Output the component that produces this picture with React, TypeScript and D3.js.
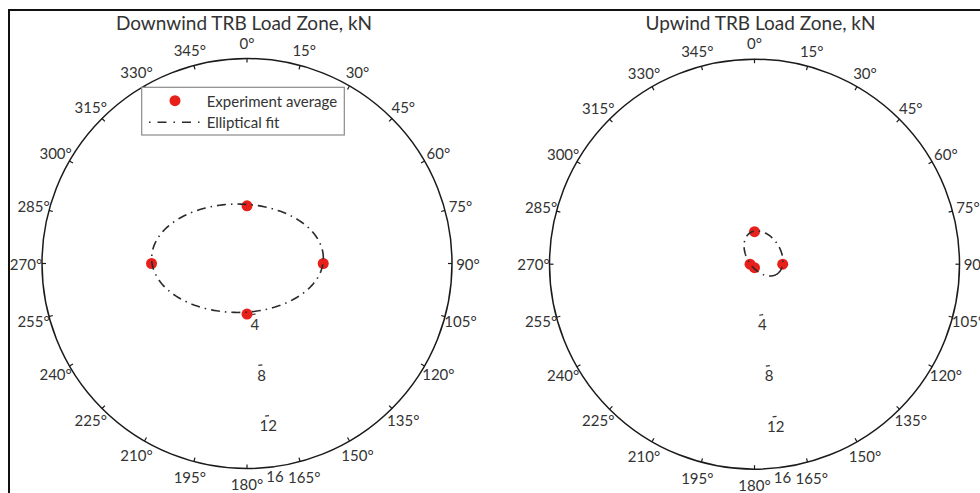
import React from 'react';
import * as d3 from 'd3';

// Compass directions (deg, clockwise from north) of the outer angle labels
const angleTicks = [0, 15, 30, 45, 60, 75, 90, 105, 120, 135, 150, 165, 180, 195, 210, 225, 240, 255, 270, 285, 300, 315, 330, 345];
// Radial (load) ticks, kN
const ringTicks = [4, 8, 12, 16];
const radialMax = 16;

// Measured load directions and the averaged load magnitude (kN) at each
const loadDirections = [0, 90, 180, 270];
const downwindLoad = [4.5, 5.95, 3.95, 7.45];
const upwindLoad = [2.54, 2.2, 0.27, 0.35];

// Elliptical fits: centre (east, north) in kN, semi-axes in kN, tilt in deg (ccw from east)
const downwindFit = { x0: -0.74, y0: 0.41, a: 6.7, b: 4.23, tilt: 0 };
const upwindFit = { x0: 0.7, y0: 0.84, a: 1.92, b: 1.31, tilt: -57 };

const titles = ['Downwind TRB Load Zone, kN', 'Upwind TRB Load Zone, kN'];
const legendLabels = ['Experiment average', 'Elliptical fit'];

const W = 980;
const H = 493;
const R = 205;
const FONT = 'Lato, "Open Sans", sans-serif';
const TEXT = '#333';
const RED = '#e8201c';
const DASHDOT = '9 5 1.5 5';
const RING_LABEL_ANGLE = 172.5;

type Fit = { x0: number; y0: number; a: number; b: number; tilt: number };

function PolarPanel(props: {
  cx: number;
  cy: number;
  title: string;
  titleX: number;
  load: number[];
  fit: Fit;
  legend?: boolean;
}) {
  const { cx, cy, title, titleX, load, fit, legend } = props;
  const r = d3.scaleLinear().domain([0, radialMax]).range([0, R]);
  const rad = (deg: number) => (deg * Math.PI) / 180;
  const polar = (deg: number, px: number): [number, number] => [
    cx + px * Math.sin(rad(deg)),
    cy - px * Math.cos(rad(deg)),
  ];

  // fitted ellipse traced in east/north coordinates
  const phi = rad(fit.tilt);
  const ellipsePts: [number, number][] = d3.range(0, 360, 2).map((t) => {
    const tr = rad(t);
    const e = fit.x0 + fit.a * Math.cos(tr) * Math.cos(phi) - fit.b * Math.sin(tr) * Math.sin(phi);
    const n = fit.y0 + fit.a * Math.cos(tr) * Math.sin(phi) + fit.b * Math.sin(tr) * Math.cos(phi);
    return [cx + r(e), cy - r(n)];
  });
  const ellipsePath = d3.line().curve(d3.curveLinearClosed)(ellipsePts) || '';

  // tiny pieces of each ring, visible next to the ring labels
  const ringArc = (v: number) => {
    const px = r(v);
    const half = (2 / px) * (180 / Math.PI);
    const line = d3
      .lineRadial<number>()
      .angle((d) => rad(d))
      .radius(px);
    return line([RING_LABEL_ANGLE - half, RING_LABEL_ANGLE + half]) || '';
  };

  return (
    <g>
      <text x={titleX} y={29.5} textAnchor="middle" fontSize={19} fill={TEXT} fontFamily={FONT}>
        {title}
      </text>
      <circle cx={cx} cy={cy} r={R} fill="none" stroke="#1a1a1a" strokeWidth={1.5} />
      {angleTicks.map((a) => {
        const [x1, y1] = polar(a, R);
        const [x2, y2] = polar(a, R - 4);
        return <line key={'t' + a} x1={x1} y1={y1} x2={x2} y2={y2} stroke="#1a1a1a" strokeWidth={1.2} />;
      })}
      {angleTicks.map((a) => {
        const [x, y] = polar(a, R * 1.078);
        return (
          <text
            key={'l' + a}
            x={x}
            y={y}
            textAnchor="middle"
            dominantBaseline="central"
            fontSize={15}
            fill={TEXT}
            fontFamily={FONT}
          >
            {a + '°'}
          </text>
        );
      })}
      {ringTicks.map((v) => (
        <path
          key={'ra' + v}
          d={ringArc(v)}
          transform={`translate(${cx},${cy})`}
          fill="none"
          stroke="#333"
          strokeWidth={1.2}
        />
      ))}
      {ringTicks.map((v) => {
        const [x, y] = polar(RING_LABEL_ANGLE, r(v) + 9.5);
        return (
          <text
            key={'rl' + v}
            x={x}
            y={y}
            textAnchor="middle"
            dominantBaseline="central"
            fontSize={15}
            fill={TEXT}
            fontFamily={FONT}
          >
            {v}
          </text>
        );
      })}
      {loadDirections.map((a, i) => {
        const [x, y] = polar(a, r(load[i]));
        return <circle key={'p' + a} cx={x} cy={y} r={5.5} fill={RED} />;
      })}
      <path d={ellipsePath} fill="none" stroke="#2a2a2a" strokeWidth={1.6} strokeDasharray={DASHDOT} />
      {legend && (
        <g>
          <rect x={141.7} y={87.3} width={202.6} height={47.7} fill="#fff" stroke="#8a8a8a" strokeWidth={1.2} />
          <circle cx={175} cy={100.7} r={5.5} fill={RED} />
          <line x1={149} y1={122.3} x2={200} y2={122.3} stroke="#2a2a2a" strokeWidth={1.6} strokeDasharray="1.5 7 9 7" />
          <text x={206.7} y={100.7} dominantBaseline="central" fontSize={15} fill={TEXT} fontFamily={FONT}>
            {legendLabels[0]}
          </text>
          <text x={206.7} y={122.3} dominantBaseline="central" fontSize={15} fill={TEXT} fontFamily={FONT}>
            {legendLabels[1]}
          </text>
        </g>
      )}
    </g>
  );
}

export default function App() {
  return (
    <svg
      width={W}
      height={H}
      viewBox={`0 0 ${W} ${H}`}
      style={{ position: 'absolute', left: 0, top: 0, background: '#fff' }}
    >
      <rect x={0} y={0} width={W} height={H} fill="#fff" />
      <rect x={9} y={10} width={W + 20} height={H + 20} fill="none" stroke="#111" strokeWidth={2} />
      <PolarPanel cx={247} cy={263.5} title={titles[0]} titleX={244} load={downwindLoad} fit={downwindFit} legend />
      <PolarPanel cx={754.5} cy={264.2} title={titles[1]} titleX={760.5} load={upwindLoad} fit={upwindFit} />
    </svg>
  );
}
